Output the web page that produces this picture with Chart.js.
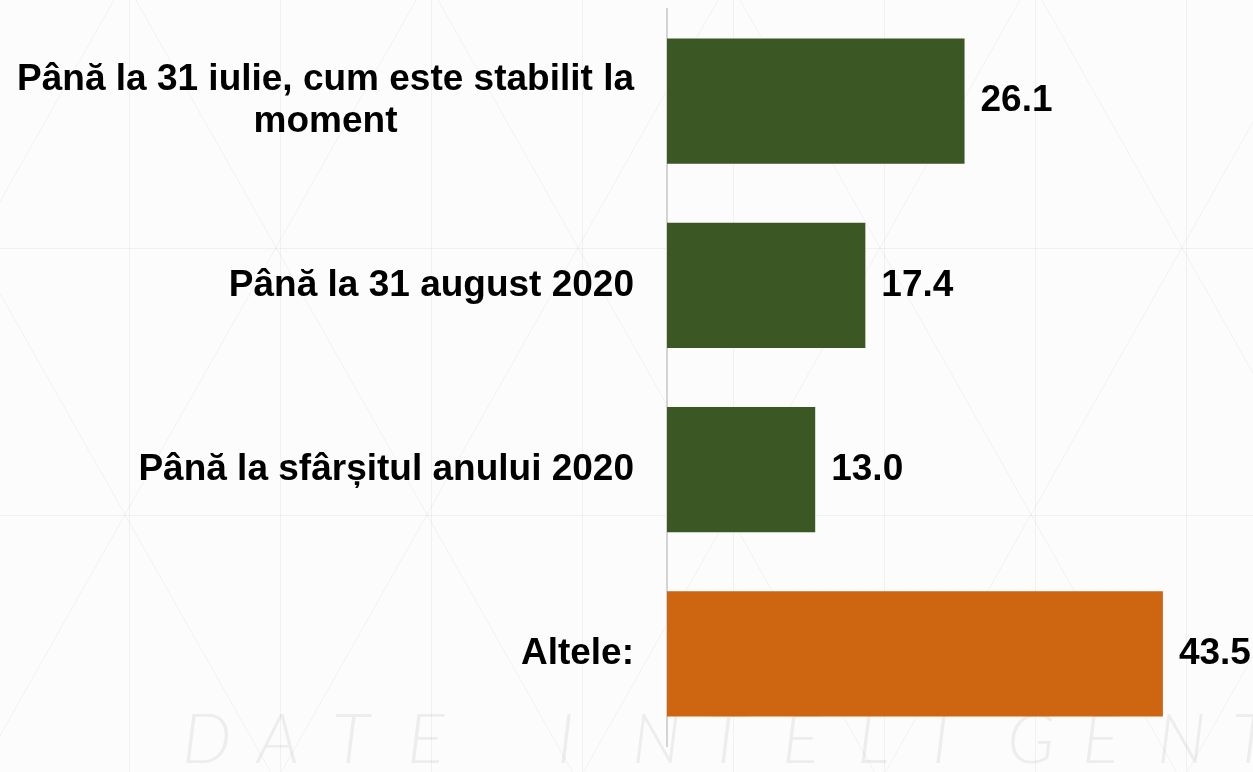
<!DOCTYPE html>
<html lang="ro">
<head>
    <meta charset="UTF-8">
    <title>Termen</title>
    <script src="https://cdn.jsdelivr.net/npm/chart.js"></script>
    <style>
        html, body { margin: 0; padding: 0; background: #fcfcfc; }
        #wrap { width: 1253px; height: 772px; position: relative; }
    </style>
</head>
<body>
    <div id="wrap"><canvas id="chart"></canvas></div>
    <script>
        const categories = [
            ['Până la 31 iulie, cum este stabilit la', 'moment'],
            'Până la 31 august 2020',
            'Până la sfârșitul anului 2020',
            'Altele:'
        ];
        const values = [26.1, 17.4, 13.0, 43.5];
        const barColors = ['#3b5723', '#3b5723', '#3b5723', '#cd6511'];

        const FONT = 'bold 37px "Liberation Sans", Arial, sans-serif';

        // faint background lattice + watermark text
        const backdrop = {
            id: 'backdrop',
            beforeDraw(chart) {
                const ctx = chart.ctx;
                const w = chart.width, h = chart.height;
                ctx.save();
                ctx.fillStyle = '#fcfcfc';
                ctx.fillRect(0, 0, w, h);
                ctx.strokeStyle = 'rgba(0,0,0,0.045)';
                ctx.lineWidth = 1;
                ctx.beginPath();
                for (let x = -22; x < w; x += 151) {
                    ctx.moveTo(x + 0.5, 0); ctx.lineTo(x + 0.5, h);
                }
                [248, 515].forEach(y => { ctx.moveTo(0, y + 0.5); ctx.lineTo(w, y + 0.5); });
                const slope = 267 / 151;
                for (let x = 740 - 302 * 5; x < w + 600; x += 302) {
                    ctx.moveTo(x, 0); ctx.lineTo(x + h / slope, h);
                }
                for (let x = 1020 - 302 * 5; x < w + 600; x += 302) {
                    ctx.moveTo(x, 0); ctx.lineTo(x - h / slope, h);
                }
                ctx.stroke();
                ctx.fillStyle = 'rgba(0,0,0,0.06)';
                ctx.font = 'italic 300 70px Lato, sans-serif';
                ctx.textBaseline = 'alphabetic';
                const word = 'DATE INTELIGENT';
                for (let i = 0; i < word.length; i++) {
                    ctx.fillText(word[i], 182 + i * 75, 763);
                }
                ctx.restore();
            }
        };

        // category labels and value labels
        const labelsPlugin = {
            id: 'labels',
            afterDatasetsDraw(chart) {
                const ctx = chart.ctx;
                const yScale = chart.scales.y;
                const meta = chart.getDatasetMeta(0);
                ctx.save();
                ctx.font = FONT;
                ctx.fillStyle = '#000';
                ctx.textBaseline = 'middle';
                categories.forEach((cat, i) => {
                    const yc = yScale.getPixelForValue(i);
                    if (Array.isArray(cat)) {
                        ctx.textAlign = 'center';
                        const widest = Math.max(...cat.map(t => ctx.measureText(t).width));
                        const cx = 634 - widest / 2;
                        const lh = 42;
                        cat.forEach((t, j) => {
                            ctx.fillText(t, cx, yc + (j - (cat.length - 1) / 2) * lh);
                        });
                    } else {
                        ctx.textAlign = 'right';
                        ctx.fillText(cat, 634, yc);
                    }
                });
                ctx.textAlign = 'left';
                meta.data.forEach((bar, i) => {
                    ctx.fillText(values[i].toFixed(1), bar.x + 16, bar.y);
                });
                ctx.restore();
            }
        };

        new Chart(document.getElementById('chart'), {
            type: 'bar',
            data: {
                labels: categories,
                datasets: [{
                    data: values,
                    backgroundColor: barColors,
                    borderWidth: 0,
                    categoryPercentage: 1,
                    barPercentage: 0.68
                }]
            },
            options: {
                indexAxis: 'y',
                responsive: true,
                maintainAspectRatio: false,
                animation: false,
                layout: { padding: { top: 9, bottom: 26, right: 16, left: 0 } },
                plugins: { legend: { display: false }, tooltip: { enabled: false } },
                scales: {
                    x: { display: false, min: 0, max: 50 },
                    y: {
                        ticks: { display: false },
                        grid: { display: false },
                        border: { display: true, color: '#d4d4d4', width: 2 },
                        afterFit(s) { s.width = 667; }
                    }
                }
            },
            plugins: [backdrop, labelsPlugin]
        });
    </script>
</body>
</html>
